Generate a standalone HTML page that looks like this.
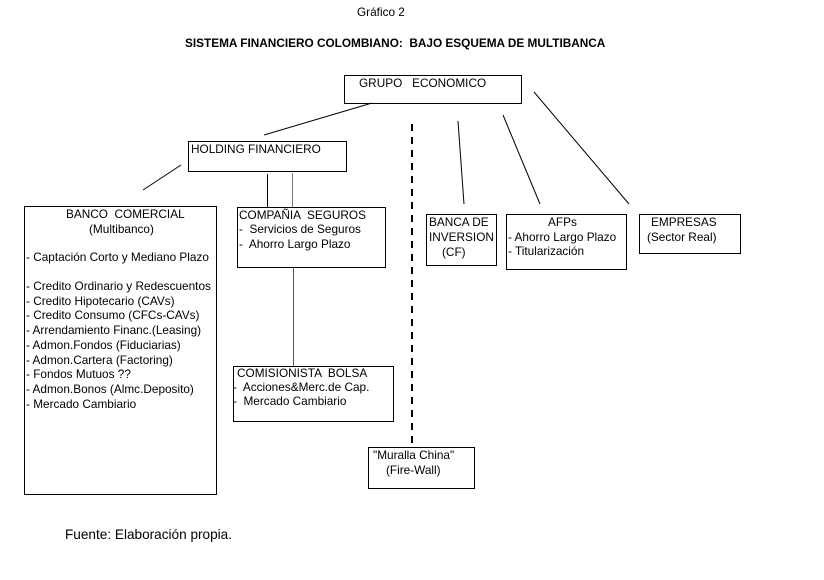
<!DOCTYPE html>
<html><head><meta charset="utf-8"><style>
body{margin:0;background:#fff}
svg{display:block}
text{font-family:"Liberation Sans",Arial,sans-serif;font-size:11.8px;fill:#000}
</style></head><body>
<svg width="824" height="580" viewBox="0 0 824 580" xmlns="http://www.w3.org/2000/svg">
<g fill="none" stroke="#000" stroke-width="1">
<rect x="344.5" y="75.5" width="177" height="28"/>
<rect x="188.5" y="141.5" width="158" height="30"/>
<rect x="24.5" y="206.5" width="192" height="288"/>
<rect x="237.5" y="207.5" width="148" height="60"/>
<rect x="233.5" y="366.5" width="160" height="55"/>
<rect x="368.5" y="447.5" width="106" height="41"/>
<rect x="426.5" y="214.5" width="70" height="51"/>
<rect x="506.5" y="214.5" width="120" height="55"/>
<rect x="639.5" y="214.5" width="101" height="39"/>
<line x1="372" y1="103" x2="264" y2="135"/>
<line x1="181" y1="165" x2="143" y2="190"/>
<line x1="267.5" y1="174" x2="267.5" y2="207"/>
<line x1="292.5" y1="173" x2="292.5" y2="207" stroke="#777"/>
<line x1="293.5" y1="268" x2="293.5" y2="366" stroke="#555"/>
<line x1="458" y1="121" x2="464" y2="204"/>
<line x1="503" y1="115" x2="540" y2="204"/>
<line x1="534" y1="92" x2="629" y2="204"/>
<line x1="412" y1="124" x2="412" y2="448" stroke-width="2" stroke-dasharray="7,6"/>
</g>
<text x="357" y="16">Gráfico 2</text>
<text x="185" y="47" font-weight="bold" xml:space="preserve">SISTEMA FINANCIERO COLOMBIANO:  BAJO ESQUEMA DE MULTIBANCA</text>
<text x="359" y="87" xml:space="preserve">GRUPO   ECONOMICO</text>
<text x="191" y="153">HOLDING FINANCIERO</text>
<text x="66" y="218" xml:space="preserve">BANCO  COMERCIAL</text>
<text x="89" y="233">(Multibanco)</text>
<text x="26" y="261">- Captación Corto y Mediano Plazo</text>
<text x="26" y="290">- Credito Ordinario y Redescuentos</text>
<text x="26" y="305">- Credito Hipotecario (CAVs)</text>
<text x="26" y="319">- Credito Consumo (CFCs-CAVs)</text>
<text x="26" y="334">- Arrendamiento Financ.(Leasing)</text>
<text x="26" y="349">- Admon.Fondos (Fiduciarias)</text>
<text x="26" y="364">- Admon.Cartera (Factoring)</text>
<text x="26" y="378">- Fondos Mutuos ??</text>
<text x="26" y="393">- Admon.Bonos (Almc.Deposito)</text>
<text x="26" y="408">- Mercado Cambiario</text>
<text x="239" y="219" xml:space="preserve">COMPAÑIA  SEGUROS</text>
<text x="239" y="233" xml:space="preserve">-  Servicios de Seguros</text>
<text x="239" y="248" xml:space="preserve">-  Ahorro Largo Plazo</text>
<text x="237" y="377" xml:space="preserve">COMISIONISTA  BOLSA</text>
<text x="233" y="391" xml:space="preserve">-  Acciones&amp;Merc.de Cap.</text>
<text x="233" y="405" xml:space="preserve">-  Mercado Cambiario</text>
<text x="373" y="459">"Muralla China"</text>
<text x="386" y="474">(Fire-Wall)</text>
<text x="429" y="226">BANCA DE</text>
<text x="429" y="241">INVERSION</text>
<text x="442" y="256">(CF)</text>
<text x="548" y="226">AFPs</text>
<text x="508" y="241">- Ahorro Largo Plazo</text>
<text x="508" y="255">- Titularización</text>
<text x="651" y="226">EMPRESAS</text>
<text x="647" y="241">(Sector Real)</text>
<text x="65" y="539" style="font-size:13.6px">Fuente: Elaboración propia.</text>
</svg>
</body></html>
